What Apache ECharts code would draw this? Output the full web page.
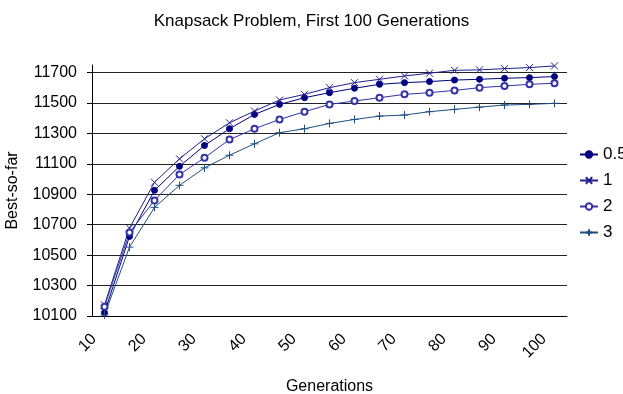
<!DOCTYPE html>
<html>
<head>
<meta charset="utf-8">
<title>Knapsack Problem</title>
<script src="https://cdn.jsdelivr.net/npm/echarts@6/dist/echarts.min.js"></script>
<style>
  html, body { margin: 0; padding: 0; background: #fff; }
  #chart { width: 623px; height: 394px; }
</style>
</head>
<body>
<div id="chart"></div>
<script>
// generations (category axis), every other one gets a label
var categories = ['10', '15', '20', '25', '30', '35', '40', '45', '50', '55',
  '60', '65', '70', '75', '80', '85', '90', '95', '100'];
var yTicks = [10100, 10300, 10500, 10700, 10900, 11100, 11300, 11500, 11700];

var s05 = [10122, 10623, 10926, 11084, 11221, 11331, 11425, 11491, 11535, 11568,
  11597, 11623, 11634, 11641, 11651, 11656, 11663, 11667, 11674];
var s1 = [10173, 10678, 10979, 11133, 11265, 11370, 11447, 11520, 11557, 11601,
  11634, 11656, 11678, 11696, 11715, 11718, 11726, 11733, 11744];
var s2 = [10161, 10649, 10860, 11030, 11140, 11260, 11331, 11392, 11443, 11491,
  11513, 11535, 11557, 11568, 11583, 11601, 11612, 11623, 11630];
var s3 = [10107, 10553, 10814, 10959, 11074, 11157, 11232, 11305, 11331, 11366,
  11392, 11414, 11421, 11443, 11458, 11473, 11487, 11491, 11498];

var FONT = 'Liberation Sans';
var crossSym = 'path://M0,0L10,10M10,0L0,10';
var plusSym = 'path://M5,0L5,10M0,5L10,5';

function line(name, data, color, symbol, size, fill) {
  return {
    name: name,
    type: 'line',
    data: data,
    symbol: symbol,
    symbolSize: size,
    clip: false,
    lineStyle: { color: color, width: 1 },
    itemStyle: {
      color: fill,
      borderColor: color,
      borderWidth: 1
    }
  };
}

var chart = echarts.init(document.getElementById('chart'));
chart.setOption({
  animation: false,
  backgroundColor: '#fff',
  textStyle: { fontFamily: FONT, color: '#000' },
  title: {
    text: 'Knapsack Problem, First 100 Generations',
    left: 'center',
    top: 8,
    textStyle: { fontFamily: FONT, fontSize: 17, fontWeight: 'normal', color: '#000' }
  },
  legend: {
    orient: 'vertical',
    left: 574,
    top: 141,
    itemWidth: 18,
    itemHeight: 8,
    itemGap: 9,
    textStyle: { fontFamily: FONT, fontSize: 17, color: '#000' },
    data: ['0.5', '1', '2', '3']
  },
  grid: { left: 92, right: 56, top: 65, bottom: 78, outerBoundsMode: 'none' },
  xAxis: {
    type: 'category',
    data: categories,
    name: 'Generations',
    nameLocation: 'middle',
    nameGap: 63,
    nameTextStyle: { fontFamily: FONT, fontSize: 16, color: '#000', verticalAlign: 'top' },
    axisLine: { lineStyle: { color: '#000', width: 1 } },
    axisTick: { length: 6, lineStyle: { color: '#000' } },
    axisLabel: {
      interval: 1,
      rotate: 45,
      margin: 10,
      padding: [0, 15, 0, 0],
      fontFamily: FONT,
      fontSize: 16,
      color: '#000'
    },
    splitLine: { show: false }
  },
  yAxis: {
    type: 'value',
    min: 10100,
    max: 11750,
    interval: 200,
    name: 'Best-so-far',
    nameLocation: 'middle',
    nameRotate: 90,
    nameGap: 71,
    nameTextStyle: { fontFamily: FONT, fontSize: 16, color: '#000' },
    axisLine: { show: true, lineStyle: { color: '#000', width: 1 } },
    axisTick: { show: true, length: 5, lineStyle: { color: '#000' }, customValues: yTicks },
    axisLabel: {
      margin: 15,
      fontFamily: FONT,
      fontSize: 16,
      color: '#000',
      customValues: yTicks,
      formatter: function (v) { return String(v); }
    },
    splitLine: {
      show: true,
      lineStyle: {
        width: 1,
        color: ['#000', '#222', '#222', '#222', '#222', '#222', '#222', '#222', '#222', 'transparent']
      }
    }
  },
  series: [
    line('0.5', s05, '#000080', 'circle', 6, '#000080'),
    line('1', s1, '#1f1f8f', crossSym, 7, 'transparent'),
    line('2', s2, '#3333aa', 'emptyCircle', 6, '#3333aa'),
    line('3', s3, '#1d4f7f', plusSym, 8, 'transparent')
  ]
});
</script>
</body>
</html>
